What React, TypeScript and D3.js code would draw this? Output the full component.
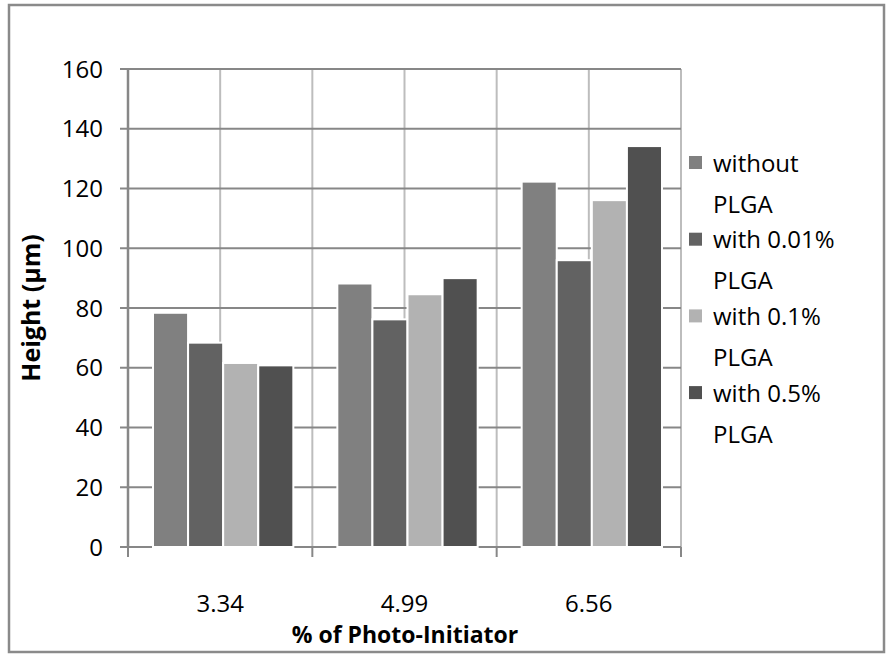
import React from 'react';
import * as d3 from 'd3';

const categories = ['3.34', '4.99', '6.56'];
const seriesNames = ['without PLGA', 'with 0.01% PLGA', 'with 0.1% PLGA', 'with 0.5% PLGA'];
const withoutPLGA = [78.4, 88.2, 122.3];
const with001 = [68.4, 76.2, 96.0];
const with01 = [61.6, 84.6, 116.1];
const with05 = [60.8, 90.0, 134.2];
const yTicks = [0, 20, 40, 60, 80, 100, 120, 140, 160];
const colors = ['#808080', '#626262', '#b2b2b2', '#505050'];

const W = 888;
const H = 656;
const left = 128, right = 681, top = 69, bottom = 547;
const font = "'Open Sans', 'Liberation Sans', sans-serif";

export default function App() {
  const series = [withoutPLGA, with001, with01, with05];
  const x0 = d3.scaleBand<string>().domain(categories).range([left, right]);
  const x1 = d3.scaleBand<number>().domain(d3.range(series.length)).range([25, x0.bandwidth() - 19]);
  const y = d3.scaleLinear().domain([0, 160]).range([bottom, top]);

  // vertical grid at every half band
  const half = x0.bandwidth() / 2;
  const vGrid = d3.range(1, categories.length * 2 + 1).map(i => left + i * half);

  return (
    <svg width={W} height={H} style={{ position: 'absolute', left: 0, top: 0 }}>
      <rect x={9} y={5} width={875} height={647} fill="#fff" stroke="#8a8a8a" strokeWidth={2.5} />
      {vGrid.map((gx, i) => (
        <line key={'v' + i} x1={gx} x2={gx} y1={top} y2={bottom} stroke="#bdbdbd" strokeWidth={2} />
      ))}
      {yTicks.map(t => (
        <g key={'y' + t}>
          <line x1={left - 8} x2={right} y1={y(t)} y2={y(t)} stroke="#878787" strokeWidth={2} />
          <text x={103} y={y(t)} dy="0.36em" textAnchor="end" fontFamily={font} fontSize={24} fill="#000">{t}</text>
        </g>
      ))}
      <line x1={left} x2={left} y1={top} y2={bottom} stroke="#878787" strokeWidth={2.5} />
      {categories.map((c, i) => (
        <line key={'t' + i} x1={x0(c)!} x2={x0(c)!} y1={bottom} y2={bottom + 10} stroke="#878787" strokeWidth={2} />
      ))}
      <line x1={right} x2={right} y1={bottom} y2={bottom + 10} stroke="#878787" strokeWidth={2} />
      {categories.map((c, ci) => (
        <g key={'g' + c} transform={`translate(${x0(c)},0)`}>
          {series.map((s, si) => (
            <rect key={si} x={x1(si)!} y={y(s[ci])} width={x1.bandwidth()} height={bottom - y(s[ci])}
              fill={colors[si]} stroke="#fff" strokeWidth={2} />
          ))}
        </g>
      ))}
      {categories.map(c => (
        <text key={'c' + c} x={x0(c)! + half} y={612} textAnchor="middle" fontFamily={font} fontSize={24} fill="#000">{c}</text>
      ))}
      <text x={405} y={643} textAnchor="middle" fontFamily={font} fontSize={23} fontWeight="bold" fill="#000">% of Photo-Initiator</text>
      <text transform={`translate(40,${(top + bottom) / 2}) rotate(-90)`} textAnchor="middle" fontFamily={font} fontSize={25} fontWeight="bold" fill="#000">Height (µm)</text>
      {seriesNames.map((n, i) => {
        const words = n.split(' ');
        const first = words.slice(0, -1).join(' ');
        const cy = 163 + i * 76.7;
        return (
          <g key={'l' + i}>
            <rect x={689} y={cy - 7} width={13} height={13} fill={colors[i]} />
            <text x={713} y={cy} dy="0.36em" fontFamily={font} fontSize={24} fill="#000">{first}</text>
            <text x={713} y={cy + 41} dy="0.36em" fontFamily={font} fontSize={24} fill="#000">{words[words.length - 1]}</text>
          </g>
        );
      })}
    </svg>
  );
}
